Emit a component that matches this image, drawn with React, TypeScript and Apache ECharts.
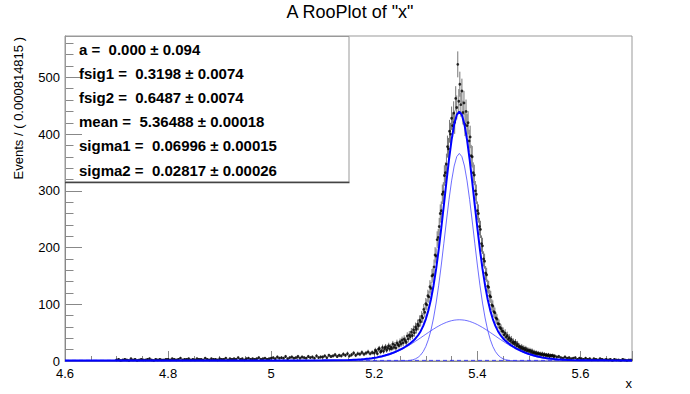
import React, { useEffect, useRef } from 'react';
import * as echarts from 'echarts';

// ---- axes ----
const X_MIN = 4.6;
const X_MAX = 5.7;
const Y_MIN = 0;
const Y_MAX = 573;
const xTickLabels = ['4.6', '4.8', '5', '5.2', '5.4', '5.6'];
const yTickLabels = ['0', '100', '200', '300', '400', '500'];

const titleText = 'A RooPlot of "x"';
const yTitle = 'Events / ( 0.000814815 )';
const xTitle = 'x';

const paramLines = [
  'a =  0.000 \u00b1 0.094',
  'fsig1 =  0.3198 \u00b1 0.0074',
  'fsig2 =  0.6487 \u00b1 0.0074',
  'mean =  5.36488 \u00b1 0.00018',
  'sigma1 =  0.06996 \u00b1 0.00015',
  'sigma2 =  0.02817 \u00b1 0.00026',
];

// ---- data (events per bin), three regular segments of bin centres ----
const tailLeftStart = 4.7;
const tailLeftStep = 0.004;
const tailLeftCounts = [
  2, 3, 1, 2, 3, 2, 1, 4, 2, 3, 1, 2, 3, 2, 2, 3, 4, 2, 1, 3, 2, 3, 2, 2, 3,
  3, 2, 4, 3, 2, 3, 5, 2, 3, 3, 4, 2, 3, 2, 4, 3, 3, 2, 5, 3, 2, 4, 3, 3, 2,
  4, 3, 3, 5, 2, 4, 3, 4, 3, 6, 3, 4, 2, 4, 5, 3, 4, 3, 4, 6, 3, 4, 5, 3, 4,
  5, 6, 4, 7, 5, 6, 5, 8, 4, 6, 7, 5, 6, 8, 5, 7, 6, 5, 8, 6, 7, 5, 9, 6, 7,
  7, 9, 6, 10, 8, 9, 11, 8, 10, 9, 12, 10, 13, 9, 11, 14, 10, 13, 12, 15, 12, 14, 16, 13, 15,
];

const peakStart = 5.2;
const peakStep = 0.002;
const peakCounts = [
  14, 19, 17, 13, 21, 22, 16, 18, 24, 17, 22, 25, 19, 23, 27, 21, 25, 22, 30, 24,
  28, 23, 32, 29, 27, 34, 30, 37, 32, 39, 36, 33, 44, 39, 46, 43, 51, 45, 55, 50,
  60, 56, 65, 62, 72, 69, 79, 76, 91, 86, 101, 99, 115, 113, 131, 128, 150, 152, 166, 187,
  185, 214, 218, 237, 260, 265, 294, 298, 327, 332, 347, 378, 374, 405, 400, 428, 415, 437, 421, 463,
  447, 523, 458, 488, 452, 476, 438, 455, 417, 440, 415, 420, 388, 395, 362, 360, 332, 328, 300, 294,
  265, 260, 237, 232, 207, 203, 180, 176, 155, 152, 132, 130, 115, 113, 99, 97, 87, 85, 76, 74,
  66, 65, 59, 57, 53, 52, 46, 49, 42, 45, 38, 41, 35, 38, 32, 34, 30, 33, 27, 30,
  25, 26, 22, 25, 21, 23, 19, 22, 18, 20, 17, 19, 15, 18, 14, 16, 13, 15, 12, 14,
  12, 13, 11, 13, 10, 12, 10, 11, 9, 11, 8, 10, 9, 10, 8, 9,
];

const tailRightStart = 5.554;
const tailRightStep = 0.004;
const tailRightCounts = [
  7, 8, 6, 5, 7, 5, 6, 4, 5, 6, 3, 5, 4, 3, 5, 3, 4, 2, 4, 3,
  2, 4, 3, 2, 3, 2, 3, 1, 3, 2, 2, 1, 3, 2, 1, 2, 2,
];

// ---- fit curves sampled on a regular grid around the peak ----
const curveStart = 5.15;
const curveStep = 0.005;
const totalCurve = [
  1.75, 1.9, 2.1, 2.3, 2.6, 2.9, 3.3, 3.8, 4.3, 4.9, 5.6, 6.4, 7.4, 8.4, 9.6, 10.9, 12.4, 14.0, 15.8, 17.8,
  20.0, 22.4, 25.1, 27.9, 31.2, 35.1, 39.7, 45.4, 52.6, 61.9, 73.9, 89.3, 108.9, 133.2, 162.4, 196.4, 234.5, 275.0, 316.2, 355.4,
  389.8, 416.8, 433.9, 439.8, 433.9, 416.8, 389.8, 355.4, 316.2, 275.0, 234.5, 196.4, 162.4, 133.2, 108.9, 89.3, 73.9, 61.9, 52.6, 45.4,
  39.7, 35.1, 31.2, 27.9, 25.1, 22.4, 20.0, 17.8, 15.8, 14.0, 12.4, 10.9, 9.6, 8.4, 7.4, 6.4, 5.6, 4.9, 4.3, 3.8,
  3.3, 2.9, 2.6, 2.3, 2.1, 1.9, 1.75,
];
const wideCurve = [
  0.65, 0.8, 1.0, 1.2, 1.5, 1.8, 2.2, 2.7, 3.2, 3.8, 4.5, 5.3, 6.3, 7.3, 8.5, 9.8, 11.3, 12.9, 14.7, 16.7,
  18.8, 21.1, 23.6, 26.2, 28.9, 31.8, 34.8, 37.8, 40.9, 44.1, 47.2, 50.3, 53.4, 56.3, 59.1, 61.7, 64.2, 66.3, 68.2, 69.8,
  71.1, 72.0, 72.5, 72.7, 72.5, 72.0, 71.1, 69.8, 68.2, 66.3, 64.2, 61.7, 59.1, 56.3, 53.4, 50.3, 47.2, 44.1, 40.9, 37.8,
  34.8, 31.8, 28.9, 26.2, 23.6, 21.1, 18.8, 16.7, 14.7, 12.9, 11.3, 9.8, 8.5, 7.3, 6.3, 5.3, 4.5, 3.8, 3.2, 2.7,
  2.2, 1.8, 1.5, 1.2, 1.0, 0.8, 0.65,
];
const narrowCurve = [
  0, 0, 0, 0, 0, 0, 0, 0, 0, 0, 0, 0, 0, 0, 0, 0, 0, 0, 0, 0,
  0.1, 0.2, 0.4, 0.7, 1.2, 2.2, 3.9, 6.5, 10.6, 16.7, 25.6, 37.9, 54.4, 75.8, 102.2, 133.6, 169.2, 207.6, 246.9, 284.5,
  317.6, 343.7, 360.3, 366.0, 360.3, 343.7, 317.6, 284.5, 246.9, 207.6, 169.2, 133.6, 102.2, 75.8, 54.4, 37.9, 25.6, 16.7, 10.6, 6.5,
  3.9, 2.2, 1.2, 0.7, 0.4, 0.2, 0.1, 0, 0, 0, 0, 0, 0, 0, 0, 0, 0, 0, 0, 0,
  0, 0, 0, 0, 0, 0, 0,
];
// outside the dense grid
const outerLeftX = [4.6, 4.9, 5.0, 5.05, 5.1];
const outerLeftTotal = [1.1, 1.1, 1.1, 1.1, 1.16];
const outerLeftWide = [0, 0, 0, 0, 0.06];
const outerRightX = [5.6, 5.65, 5.7];
const outerRightTotal = [1.36, 1.12, 1.1];
const outerRightWide = [0.26, 0.02, 0];
const bkgX = [4.6, 5.7];
const bkgLevel = [1.1, 1.1];

function segment(start: number, step: number, vals: number[]) {
  return vals.map((v, i) => [start + i * step, v]);
}
function curve(dense: number[], leftY: number[], rightY: number[]) {
  const pts: number[][] = [];
  outerLeftX.forEach((x, i) => pts.push([x, leftY[i]]));
  dense.forEach((v, i) => pts.push([curveStart + i * curveStep, v]));
  outerRightX.forEach((x, i) => pts.push([x, rightY[i]]));
  return pts;
}

const FONT = 'Liberation Sans, Arial, Helvetica, sans-serif';

export default function App() {
  const ref = useRef<HTMLDivElement>(null);
  useEffect(() => {
    if (!ref.current) return;
    const chart = echarts.init(ref.current, null, { renderer: 'svg' });
    const points = [
      ...segment(tailLeftStart, tailLeftStep, tailLeftCounts),
      ...segment(peakStart, peakStep, peakCounts),
      ...segment(tailRightStart, tailRightStep, tailRightCounts),
    ];
    const zeros = (n: number) => new Array(n).fill(0);
    const option: any = {
      animation: false,
      backgroundColor: '#fff',
      grid: { left: 65, right: 58, top: 36, bottom: 33, show: true, borderColor: '#999', borderWidth: 1, backgroundColor: 'transparent' },
      xAxis: [
        {
          type: 'value', min: X_MIN, max: X_MAX, interval: 0.2,
          axisLine: { show: true, lineStyle: { color: '#888', width: 1 } },
          axisTick: { show: true, inside: true, length: 10, lineStyle: { color: '#888' } },
          axisLabel: {
            color: '#000', fontSize: 13, fontFamily: FONT, margin: 6,
            formatter: (v: number) => {
              const s = String(Math.round(v * 10) / 10);
              return xTickLabels.includes(s) ? s : '';
            },
          },
          splitLine: { show: false },
        },
        {
          type: 'value', min: X_MIN, max: X_MAX, interval: 0.05, position: 'bottom', offset: 0,
          axisLine: { show: false },
          axisTick: { show: true, inside: true, length: 5, lineStyle: { color: '#888' } },
          axisLabel: { show: false },
          splitLine: { show: false },
        },
      ],
      yAxis: [
        {
          type: 'value', min: Y_MIN, max: Y_MAX, interval: 100,
          axisLine: { show: true, lineStyle: { color: '#888', width: 1 } },
          axisTick: { show: true, inside: true, length: 17, lineStyle: { color: '#888' } },
          axisLabel: {
            color: '#000', fontSize: 13, fontFamily: FONT, margin: 5,
            formatter: (v: number) => {
              const s = String(Math.round(v));
              return yTickLabels.includes(s) && Math.abs(v - Math.round(v)) < 1e-6 ? s : '';
            },
          },
          splitLine: { show: false },
        },
        {
          type: 'value', min: Y_MIN, max: Y_MAX, interval: 20, position: 'left', offset: 0,
          axisLine: { show: false },
          axisTick: { show: true, inside: true, length: 8.5, lineStyle: { color: '#888' } },
          axisLabel: { show: false },
          splitLine: { show: false },
        },
      ],
      series: [
        {
          type: 'custom', name: 'errors', xAxisIndex: 0, yAxisIndex: 0, z: 1, silent: true,
          data: points,
          encode: { x: 0, y: 1 },
          renderItem: (_p: any, api: any) => {
            const x = api.value(0);
            const y = api.value(1);
            const e = Math.sqrt(y);
            const a = api.coord([x, y - e]);
            const b = api.coord([x, y + e]);
            return { type: 'line', shape: { x1: a[0], y1: a[1], x2: b[0], y2: b[1] }, style: { stroke: '#777', lineWidth: 1 } };
          },
        },
        {
          type: 'scatter', name: 'data', xAxisIndex: 0, yAxisIndex: 0, z: 2, silent: true,
          data: points, symbol: 'circle', symbolSize: 2.8,
          itemStyle: { color: '#000' },
        },
        {
          type: 'line', name: 'bkg', z: 3, silent: true, showSymbol: false, symbol: 'none',
          data: bkgX.map((x, i) => [x, bkgLevel[i]]),
          lineStyle: { color: '#0000ff', width: 1, type: [4, 3], opacity: 0.7 },
        },
        {
          type: 'line', name: 'wide', z: 3, silent: true, showSymbol: false, symbol: 'none',
          data: curve(wideCurve, outerLeftWide, outerRightWide),
          lineStyle: { color: '#3c3cff', width: 1, opacity: 0.75 },
        },
        {
          type: 'line', name: 'narrow', z: 3, silent: true, showSymbol: false, symbol: 'none',
          data: curve(narrowCurve, zeros(outerLeftX.length), zeros(outerRightX.length)),
          lineStyle: { color: '#3c3cff', width: 1, opacity: 0.75 },
        },
        {
          type: 'line', name: 'total', z: 4, silent: true, showSymbol: false, symbol: 'none',
          data: curve(totalCurve, outerLeftTotal, outerRightTotal),
          lineStyle: { color: '#0000ff', width: 2 },
        },
      ],
      graphic: [
        { type: 'text', x: 350, y: 12, style: { text: titleText, font: `18px ${FONT}`, fill: '#000', textAlign: 'center', textVerticalAlign: 'middle' } },
        { type: 'text', x: 18, y: 37, rotation: Math.PI / 2, style: { text: yTitle, font: `13px ${FONT}`, fill: '#000', textAlign: 'right', textVerticalAlign: 'middle' } },
        { type: 'text', x: 632, y: 383, style: { text: xTitle, font: `13px ${FONT}`, fill: '#000', textAlign: 'right', textVerticalAlign: 'middle' } },
        { type: 'rect', shape: { x: 65.5, y: 36.5, width: 283.5, height: 145.5 }, style: { fill: 'none', stroke: '#999', lineWidth: 1 }, z: 10 },
        { type: 'line', shape: { x1: 65, y1: 182.5, x2: 349.5, y2: 182.5 }, style: { stroke: '#444', lineWidth: 1.5 }, z: 10 },
        ...paramLines.map((t, i) => ({
          type: 'text', x: 79, y: 49 + i * 24.2, z: 11,
          style: { text: t, font: `bold 15px ${FONT}`, fill: '#000', textAlign: 'left', textVerticalAlign: 'middle' },
        })),
      ],
    };
    chart.setOption(option);
    return () => chart.dispose();
  }, []);
  return <div ref={ref} style={{ position: 'fixed', left: 0, top: 0, width: 690, height: 394, background: '#fff' }} />;
}
